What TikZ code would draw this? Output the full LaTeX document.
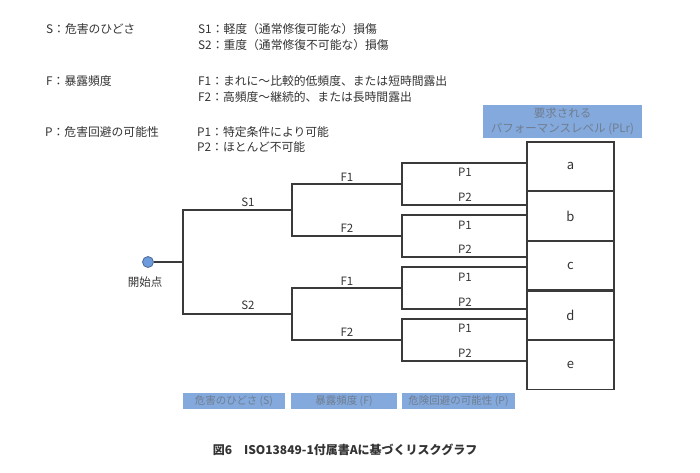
\documentclass[tikz,border=0pt]{standalone}
\usepackage{fontspec}
\setmainfont{Noto Sans CJK JP}
\definecolor{linec}{HTML}{3A3A3A}
\definecolor{txt}{HTML}{333333}
\definecolor{boxfill}{HTML}{84A9DC}
\definecolor{boxtxt}{HTML}{6F7D90}
\definecolor{dotfill}{HTML}{6E9BDC}
\definecolor{dotline}{HTML}{4A6A9A}
\begin{document}
\begin{tikzpicture}[x=1pt,y=-1pt,
  ln/.style={draw=linec, line width=1.1pt},
  leg/.style={anchor=west, inner sep=0pt, text=txt, font=\fontsize{11.8}{13}\selectfont},
  br/.style={inner sep=0pt, text=txt, font=\fontsize{11.5}{13}\selectfont},
  bluebox/.style={fill=boxfill, draw=none, inner sep=0pt, text=boxtxt, font=\fontsize{10.5}{12.5}\selectfont, align=center},
  cell/.style={draw=linec, line width=1.1pt, minimum width=87pt, minimum height=48.6pt, inner sep=0pt, text=txt, font=\fontsize{13}{15}\selectfont}
]
\useasboundingbox (0,0) rectangle (700,472);

% legend
\node[leg] (sdef) at (46,29) {S：危害のひどさ};
\node[leg] (s1def) at (198,29) {S1：軽度（通常修復可能な）損傷};
\node[leg] (s2def) at (198,45) {S2：重度（通常修復不可能な）損傷};
\node[leg] (fdef) at (46,81) {F：暴露頻度};
\node[leg] (f1def) at (198,81) {F1：まれに～比較的低頻度、または短時間露出};
\node[leg] (f2def) at (198,97) {F2：高頻度～継続的、または長時間露出};
\node[leg] (pdef) at (45,132) {P：危害回避の可能性};
\node[leg] (p1def) at (197,132) {P1：特定条件により可能};
\node[leg] (p2def) at (197,147) {P2：ほとんど不可能};

% header
\node[bluebox, minimum width=159pt, minimum height=33pt, font=\fontsize{11.5}{15}\selectfont] (hdr) at (562.5,121.5) {要求される\\パフォーマンスレベル (PLr)};

% result cells
\node[cell] (ca) at (570.5,166.3) {a};
\node[cell, anchor=north] (cb) at (ca.south) {b};
\node[cell, anchor=north] (cc) at (cb.south) {c};
\node[cell, anchor=north] (cd) at (cc.south) {d};
\node[cell, anchor=north] (ce) at (cd.south) {e};

% start point
\node[circle, fill=dotfill, draw=dotline, line width=0.8pt, minimum size=11pt, inner sep=0pt] (start) at (148,262) {};
\node[br] (startlbl) at (145,282) {開始点};

% junction coordinates
\coordinate (r) at (183,262);
\coordinate (s1) at (292,210);
\coordinate (s2) at (292,314);
\coordinate (f11) at (402,184);
\coordinate (f12) at (402,236);
\coordinate (f21) at (402,288);
\coordinate (f22) at (402,340);
\coordinate (e1) at (527,163);
\coordinate (e2) at (527,205);
\coordinate (e3) at (527,215);
\coordinate (e4) at (527,257);
\coordinate (e5) at (527,267);
\coordinate (e6) at (527,309);
\coordinate (e7) at (527,319);
\coordinate (e8) at (527,361);

\draw[ln] (start) -- (r);
\draw[ln] (s1) -| (r) |- (s2);
\draw[ln] (f11) -| (s1) |- (f12);
\draw[ln] (f21) -| (s2) |- (f22);
\draw[ln] (e1) -| (f11) |- (e2);
\draw[ln] (e3) -| (f12) |- (e4);
\draw[ln] (e5) -| (f21) |- (e6);
\draw[ln] (e7) -| (f22) |- (e8);

% branch labels
\node[br] (ls1) at (248,202) {S1};
\node[br] (ls2) at (248,305) {S2};
\node[br] (lf11) at (347,177) {F1};
\node[br] (lf12) at (347,228) {F2};
\node[br] (lf21) at (347,281) {F1};
\node[br] (lf22) at (347,332) {F2};
\node[br] (lp1) at (465,172) {P1};
\node[br] (lp2) at (465,197) {P2};
\node[br] (lp3) at (465,225) {P1};
\node[br] (lp4) at (465,249) {P2};
\node[br] (lp5) at (465,277) {P1};
\node[br] (lp6) at (465,302) {P2};
\node[br] (lp7) at (465,328) {P1};
\node[br] (lp8) at (465,353) {P2};

% bottom category boxes
\node[bluebox, minimum width=102pt, minimum height=16pt] (bs) at (234,401) {危害のひどさ (S)};
\node[bluebox, minimum width=106pt, minimum height=16pt] (bf) at (344,401) {暴露頻度 (F)};
\node[bluebox, minimum width=113pt, minimum height=16pt] (bp) at (458.5,401) {危険回避の可能性 (P)};

% caption
\node[inner sep=0pt, text=txt, font=\fontsize{12}{14}\selectfont\bfseries] (cap) at (345,450) {図6\quad ISO13849-1付属書Aに基づくリスクグラフ};
\end{tikzpicture}
\end{document}
